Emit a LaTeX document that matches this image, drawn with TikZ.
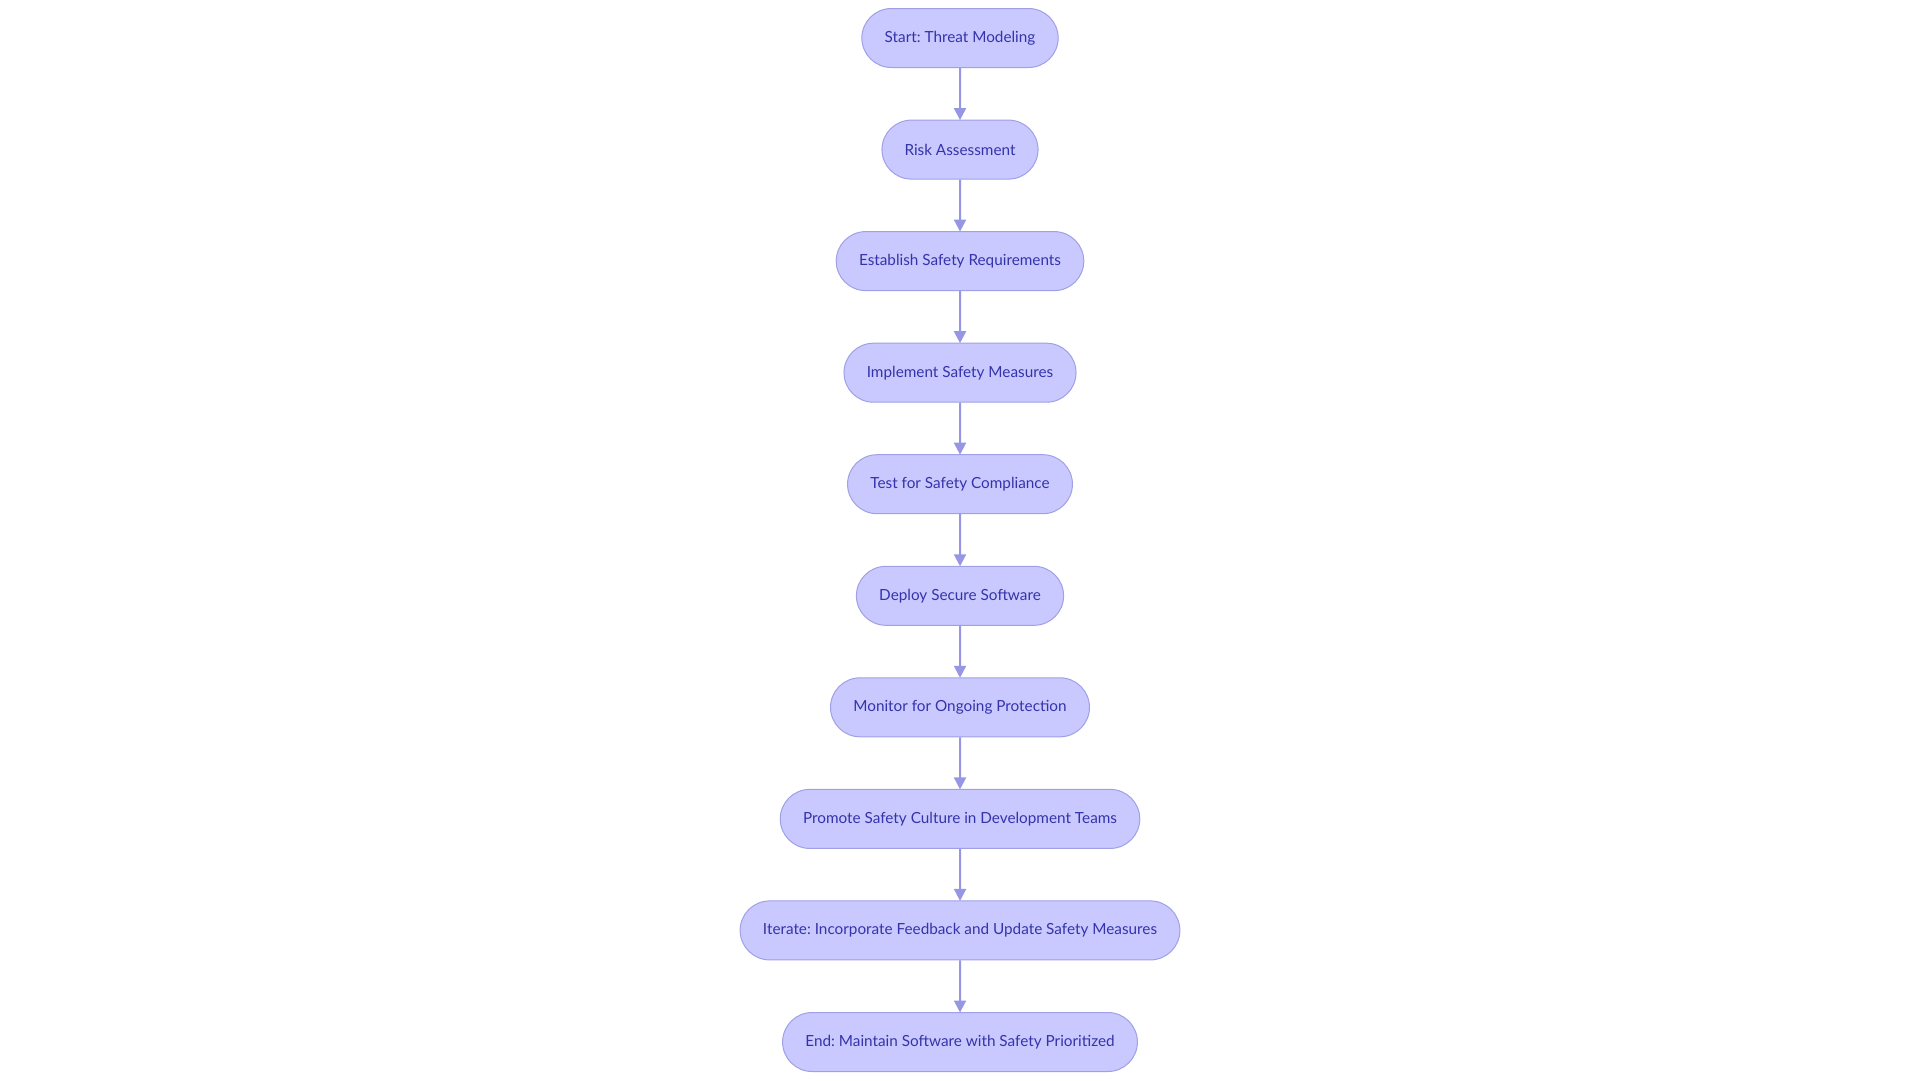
\documentclass[tikz,border=0pt]{standalone}
\usepackage{fontspec}
\setmainfont{Lato}
\usetikzlibrary{shapes.misc,arrows.meta}
\definecolor{nodefill}{RGB}{201,201,255}
\definecolor{nodeborder}{RGB}{160,160,230}
\definecolor{nodetext}{RGB}{52,52,170}
\definecolor{arrowcol}{RGB}{150,150,228}
\tikzset{
  flowbox/.style={rounded rectangle, draw=nodeborder, fill=nodefill, line width=1pt,
    minimum height=59pt, inner xsep=22pt, text=nodetext,
    font=\frenchspacing\fontsize{15.3}{18}\selectfont},
  flowarrow/.style={draw=arrowcol, line width=2pt, -{Triangle[length=12pt,width=12pt]}, shorten >=-0.5pt}
}
\begin{document}
\begin{tikzpicture}[x=1pt,y=-1pt]
\useasboundingbox (0,0) rectangle (1920,1080);
\node[flowbox] (n1) at (960,38) {Start: Threat Modeling};
\node[flowbox] (n2) at (960,149.6) {Risk Assessment};
\node[flowbox] (n3) at (960,261.1) {Establish Safety Requirements};
\node[flowbox] (n4) at (960,372.7) {Implement Safety Measures};
\node[flowbox] (n5) at (960,484.2) {Test for Safety Compliance};
\node[flowbox] (n6) at (960,595.8) {Deploy Secure Software};
\node[flowbox] (n7) at (960,707.3) {Monitor for Ongoing Protection};
\node[flowbox] (n8) at (960,818.9) {Promote Safety Culture in Development Teams};
\node[flowbox] (n9) at (960,930.4) {Iterate: Incorporate Feedback and Update Safety Measures};
\node[flowbox] (n10) at (960,1042) {End: Maintain Software with Safety Prioritized};
\foreach \a/\b in {n1/n2,n2/n3,n3/n4,n4/n5,n5/n6,n6/n7,n7/n8,n8/n9,n9/n10}
  \draw[flowarrow] (\a) -- (\b);
\end{tikzpicture}
\end{document}
